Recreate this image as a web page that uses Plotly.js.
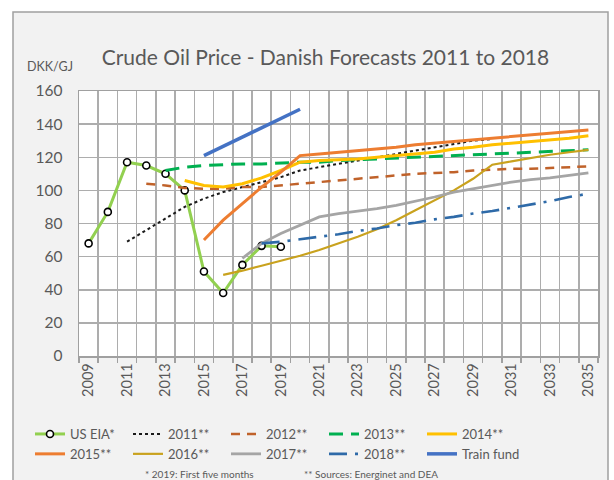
<!DOCTYPE html>
<html>
<head>
<meta charset="utf-8">
<script src="https://cdn.plot.ly/plotly-3.0.1.min.js"></script>
<style>html,body{margin:0;padding:0;background:#fff;}#chart{width:614px;height:480px;}</style>
</head>
<body>
<div id="chart"></div>
<script>
// ---- data (DKK/GJ) ----
const yearsEIA   = [2009,2010,2011,2012,2013,2014,2015,2016,2017,2018,2019];
const usEIA      = [68,87,117,115,110,100,51,38,55,66.5,66];

const years2011  = [2011,2012,2013,2014,2015,2016,2017,2018,2019,2020,2021,2022,2023,2024,2025,2026,2027,2028,2029,2030];
const f2011      = [69,76,83,90,95,99,102,105,108,112,114,116,118,120,122,124,126,128,130,131];

const years2012  = [2012,2013,2014,2015,2016,2017,2018,2019,2020,2021,2022,2023,2024,2025,2026,2027,2028,2029,2030,2031,2032,2033,2034,2035];
const f2012      = [104,103,101.5,101,101,102,102,103,104,105,106,107,108,109,110,110.5,111,112,112.5,113,113,113.5,114,114.5];

const years2013  = [2013,2014,2015,2016,2017,2018,2019,2020,2021,2022,2023,2024,2025,2026,2027,2028,2029,2030,2031,2032,2033,2034,2035];
const f2013      = [112,114,115,115.5,116,116,116.5,117,117,118,118.5,119,119.5,120,120.5,121,121.5,122,122.5,123,123.5,124,124.5];

const years2014  = [2014,2015,2016,2017,2018,2019,2020,2021,2022,2023,2024,2025,2026,2027,2028,2029,2030,2031,2032,2033,2034,2035];
const f2014      = [106,103,102,104,107.5,112,117,118,118.5,119,120,121,122,123,125,126,127.5,128.5,129.5,130.5,131.5,133];

const years2015  = [2015,2016,2017,2018,2019,2020,2021,2022,2023,2024,2025,2026,2027,2028,2029,2030,2031,2032,2033,2034,2035];
const f2015      = [70,82,92,102,111,121,122,123,124,125,126,127.5,128.5,129.5,130.5,131.5,132.5,133.5,134.5,135.5,136.5];

const years2016  = [2016,2017,2018,2019,2020,2021,2022,2023,2024,2025,2026,2027,2028,2029,2030,2031,2032,2033,2034,2035];
const f2016      = [49,51.5,54.5,57.5,60.5,64,68,72,76.5,82,88,94,100,107,115.5,117.5,119.5,121.5,123,124.5];

const years2017  = [2017,2018,2019,2020,2021,2022,2023,2024,2025,2026,2027,2028,2029,2030,2031,2032,2033,2034,2035];
const f2017      = [59,68,74,79,84,86,87.5,89,91,93.5,96,99,101,103,105,106.5,107.5,109,110.5];

const years2018  = [2018,2019,2020,2021,2022,2023,2024,2025,2026,2027,2028,2029,2030,2031,2032,2033,2034,2035];
const f2018      = [68,69,70.5,72,73.5,75.5,77,79,80.5,82.5,84,86,87.5,89.5,91.5,93.5,96,98];

const yearsTrain = [2015,2016,2017,2018,2019,2020];
const trainFund  = [121,126.5,132,138,143.5,149];

const xTickYears = [2009,2011,2013,2015,2017,2019,2021,2023,2025,2027,2029,2031,2033,2035];
const xTickText  = xTickYears.map(String);

const seriesNames = ['US EIA*','2011**','2012**','2013**','2014**','2015**','2016**','2017**','2018**','Train fund'];

// ---- layout geometry (pixels) ----
const W = 614, H = 480;
const PL = 79, PR = 598, PT = 91, PB = 356;
const pw = PR - PL, ph = PB - PT;
const px2x = p => (p - PL) / pw;
const py2y = p => (PB - p) / ph;

const txt = '#595959';
const FONT = 'Lato, "Liberation Sans", sans-serif';

function ln(name, x, y, color, width, dash) {
  return {type:'scatter', mode:'lines', name:name, x:x, y:y,
          line:{color:color, width:width, dash:dash||'solid'}, hoverinfo:'skip'};
}

const traces = [
  {type:'scatter', mode:'lines+markers', name:seriesNames[0], x:yearsEIA, y:usEIA,
   line:{color:'#92D050', width:3},
   marker:{symbol:'circle', size:7, color:'#FFFFFF', line:{color:'#000000', width:1.6}}},
  ln(seriesNames[1], years2011, f2011, '#1a1a1a', 2, 'dot'),
  ln(seriesNames[2], years2012, f2012, '#C0622A', 2.5, '9px,7px'),
  ln(seriesNames[3], years2013, f2013, '#00B050', 3, '14px,8px'),
  ln(seriesNames[4], years2014, f2014, '#FFC000', 3),
  ln(seriesNames[5], years2015, f2015, '#ED7D31', 3),
  ln(seriesNames[6], years2016, f2016, '#C9A21E', 2.2),
  ln(seriesNames[7], years2017, f2017, '#A5A5A5', 2.8),
  ln(seriesNames[8], years2018, f2018, '#2E6AA8', 2.6, '18px,8px,3px,8px'),
  ln(seriesNames[9], yearsTrain, trainFund, '#4472C4', 3.5)
];

const layout = {
  width: W, height: H,
  margin: {l: PL, r: W - PR, t: PT, b: H - PB, autoexpand: false},
  paper_bgcolor: '#FFFFFF',
  plot_bgcolor: 'rgba(0,0,0,0)',
  font: {family: FONT, color: txt},
  title: {text: 'Crude Oil Price - Danish Forecasts 2011 to 2018',
          font: {size: 21, color: txt, family: FONT},
          xref: 'container', x: 325.5 / W, xanchor: 'center',
          yref: 'container', y: 1 - 58 / H, yanchor: 'middle'},
  xaxis: {
    range: [2008.5, 2035.5], type: 'linear',
    tickmode: 'array', tickvals: xTickYears, ticktext: xTickText,
    tickangle: -90, ticks: '', showgrid: false, zeroline: false,
    tickfont: {size: 14.5, color: txt},
    showline: true, mirror: true, linecolor: '#A0A0A0', linewidth: 1.5,
    minor: {tick0: 2008.5, dtick: 1, showgrid: true, gridcolor: '#ADADAD', gridwidth: 1.5,
            ticks: 'outside', ticklen: 5, tickcolor: '#A0A0A0', tickwidth: 1.5},
    fixedrange: true
  },
  yaxis: {
    range: [0, 160], dtick: 20, tick0: 0,
    showgrid: true, gridcolor: '#ADADAD', gridwidth: 1.5, zeroline: false,
    ticks: '', ticklabelstandoff: 12,
    tickfont: {size: 15.5, color: txt},
    showline: true, mirror: true, linecolor: '#A0A0A0', linewidth: 1.5,
    fixedrange: true
  },
  showlegend: true,
  legend: {
    orientation: 'h', traceorder: 'normal',
    entrywidth: 53, entrywidthmode: 'pixels',
    x: px2x(30 + 490), xanchor: 'right',
    y: py2y(419), yanchor: 'top',
    font: {size: 13, color: txt, family: FONT},
    bgcolor: 'rgba(0,0,0,0)', borderwidth: 0
  },
  shapes: [
    {type: 'rect', layer: 'below', xref: 'paper', yref: 'paper',
     x0: px2x(13), x1: px2x(608), y0: py2y(495), y1: py2y(12),
     fillcolor: '#F2F2F2', line: {color: '#A0A0A0', width: 1.5}},
    {type: 'rect', layer: 'below', xref: 'paper', yref: 'paper',
     x0: 0, x1: 1, y0: 0, y1: 1, fillcolor: '#FFFFFF', line: {width: 0}}
  ],
  annotations: [
    {text: 'DKK/GJ', xref: 'paper', yref: 'paper', x: px2x(50), y: py2y(66),
     xanchor: 'center', yanchor: 'middle', showarrow: false,
     font: {size: 12.5, color: txt, family: FONT}},
    {text: '* 2019: First five months', xref: 'paper', yref: 'paper', x: px2x(199), y: py2y(474),
     xanchor: 'center', yanchor: 'middle', showarrow: false,
     font: {size: 10, color: txt, family: FONT}},
    {text: '** Sources: Energinet and DEA', xref: 'paper', yref: 'paper', x: px2x(371), y: py2y(474),
     xanchor: 'center', yanchor: 'middle', showarrow: false,
     font: {size: 10, color: txt, family: FONT}}
  ]
};

Plotly.newPlot('chart', traces, layout, {displayModeBar: false, staticPlot: true});
</script>
</body>
</html>
